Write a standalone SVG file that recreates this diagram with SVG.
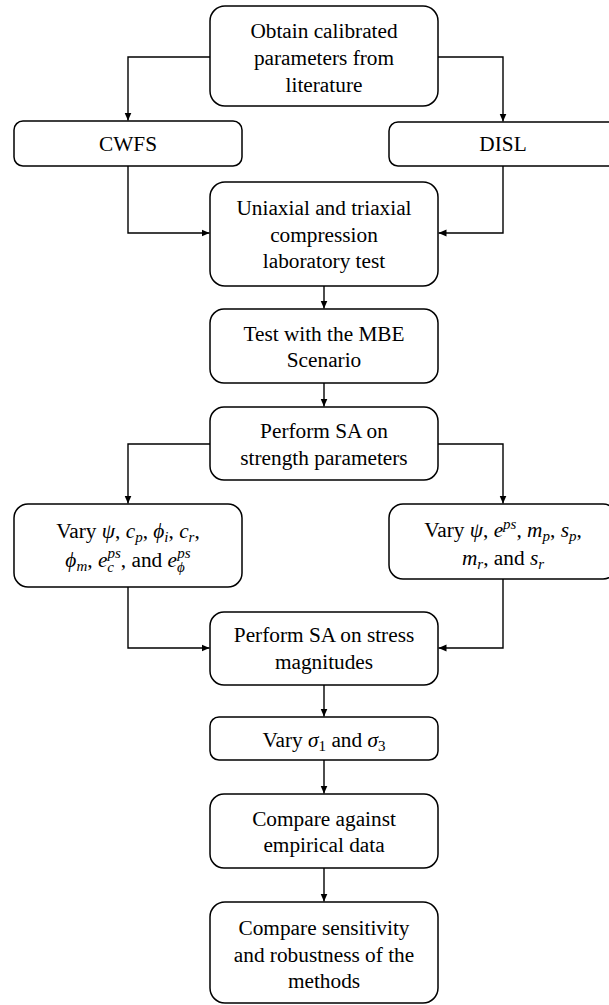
<svg xmlns="http://www.w3.org/2000/svg" width="609" height="1005" viewBox="0 0 609 1005">
  <defs>
    <marker id="arrow" markerUnits="userSpaceOnUse" markerWidth="8" markerHeight="8" viewBox="0 0 8 8" refX="8" refY="4" orient="auto">
      <path d="M0,0.5 L8,4 L0,7.5 z" fill="#000"/>
    </marker>
    <style>
      .box { fill: #fff; stroke: #000; stroke-width: 1.5; }
      .lbl { font-family: 'Liberation Serif', Tinos, 'Times New Roman', serif; font-size: 21.3px; fill: #000; text-anchor: middle; }
      .m { font-style: italic; }
      .s { font-size: 15px; }
      .edge { fill: none; stroke: #000; stroke-width: 1.4; marker-end: url(#arrow); }
    </style>
  </defs>
  <rect width="609" height="1005" fill="#fff"/>

  <g id="connectors">
    <path class="edge" d="M210,57 H128 V120.5"/>
    <path class="edge" d="M438,57 H503 V121.5"/>
    <path class="edge" d="M128,166 V233 H209.5"/>
    <path class="edge" d="M503,166 V233 H438.5"/>
    <path class="edge" d="M324,286 V308.5"/>
    <path class="edge" d="M324,383 V406.5"/>
    <path class="edge" d="M210,444 H128 V503.5"/>
    <path class="edge" d="M438,444 H503 V503.5"/>
    <path class="edge" d="M128,587 V648 H209.5"/>
    <path class="edge" d="M503,579 V648 H438.5"/>
    <path class="edge" d="M324,685 V716.5"/>
    <path class="edge" d="M324,760 V793.5"/>
    <path class="edge" d="M324,868 V901.5"/>
  </g>

  <g id="obtain">
    <rect class="box" x="210" y="6" width="228" height="100" rx="15"/>
    <text class="lbl" x="324" y="38">Obtain calibrated</text>
    <text class="lbl" x="324" y="65">parameters from</text>
    <text class="lbl" x="324" y="92">literature</text>
  </g>

  <g id="cwfs">
    <rect class="box" x="14" y="121" width="228" height="45" rx="9"/>
    <text class="lbl" x="128" y="151">CWFS</text>
  </g>

  <g id="disl">
    <rect class="box" x="389" y="122" width="228" height="44" rx="9"/>
    <text class="lbl" x="503" y="151">DISL</text>
  </g>

  <g id="lab-test">
    <rect class="box" x="210" y="182" width="228" height="104" rx="15"/>
    <text class="lbl" x="324" y="215">Uniaxial and triaxial</text>
    <text class="lbl" x="324" y="242">compression</text>
    <text class="lbl" x="324" y="268">laboratory test</text>
  </g>

  <g id="mbe">
    <rect class="box" x="210" y="309" width="228" height="74" rx="14"/>
    <text class="lbl" x="324" y="341">Test with the MBE</text>
    <text class="lbl" x="324" y="367">Scenario</text>
  </g>

  <g id="sa-strength">
    <rect class="box" x="210" y="407" width="228" height="73" rx="14"/>
    <text class="lbl" x="324" y="438">Perform SA on</text>
    <text class="lbl" x="324" y="465">strength parameters</text>
  </g>

  <g id="vary-cwfs">
    <rect class="box" x="14" y="504" width="228" height="83" rx="14"/>
    <text class="lbl" x="128" y="538">Vary <tspan class="m">ψ</tspan>, <tspan class="m">c</tspan><tspan class="m s" dy="4">p</tspan><tspan dy="-4">, </tspan><tspan class="m">ϕ</tspan><tspan class="m s" dy="4">i</tspan><tspan dy="-4">, </tspan><tspan class="m">c</tspan><tspan class="m s" dy="4">r</tspan><tspan dy="-4">,</tspan></text>
    <text class="lbl" x="128" y="567"><tspan class="m">ϕ</tspan><tspan class="m s" dy="4">m</tspan><tspan dy="-4">, </tspan><tspan class="m">e</tspan><tspan class="m s" dy="5">c</tspan><tspan class="m s" dx="-6.5" dy="-14">ps</tspan><tspan dy="9">, and </tspan><tspan class="m">e</tspan><tspan class="m s" dy="5">ϕ</tspan><tspan class="m s" dx="-7.5" dy="-14">ps</tspan></text>
  </g>

  <g id="vary-disl">
    <rect class="box" x="389" y="504" width="228" height="75" rx="14"/>
    <text class="lbl" x="503" y="537">Vary <tspan class="m">ψ</tspan>, <tspan class="m">e</tspan><tspan class="m s" dy="-8">ps</tspan><tspan dy="8">, </tspan><tspan class="m">m</tspan><tspan class="m s" dy="4">p</tspan><tspan dy="-4">, </tspan><tspan class="m">s</tspan><tspan class="m s" dy="4">p</tspan><tspan dy="-4">,</tspan></text>
    <text class="lbl" x="503" y="565"><tspan class="m">m</tspan><tspan class="m s" dy="4">r</tspan><tspan dy="-4">, and </tspan><tspan class="m">s</tspan><tspan class="m s" dy="4">r</tspan></text>
  </g>

  <g id="sa-stress">
    <rect class="box" x="210" y="612" width="228" height="73" rx="14"/>
    <text class="lbl" x="324" y="642">Perform SA on stress</text>
    <text class="lbl" x="324" y="669">magnitudes</text>
  </g>

  <g id="vary-sigma">
    <rect class="box" x="210" y="717" width="228" height="43" rx="9"/>
    <text class="lbl" x="324" y="747">Vary <tspan class="m">σ</tspan><tspan class="s" dy="4">1</tspan><tspan dy="-4"> and </tspan><tspan class="m">σ</tspan><tspan class="s" dy="4">3</tspan></text>
  </g>

  <g id="empirical">
    <rect class="box" x="210" y="794" width="228" height="74" rx="14"/>
    <text class="lbl" x="324" y="826">Compare against</text>
    <text class="lbl" x="324" y="852">empirical data</text>
  </g>

  <g id="robustness">
    <rect class="box" x="210" y="902" width="228" height="101" rx="15"/>
    <text class="lbl" x="324" y="935">Compare sensitivity</text>
    <text class="lbl" x="324" y="962">and robustness of the</text>
    <text class="lbl" x="324" y="988">methods</text>
  </g>
</svg>
